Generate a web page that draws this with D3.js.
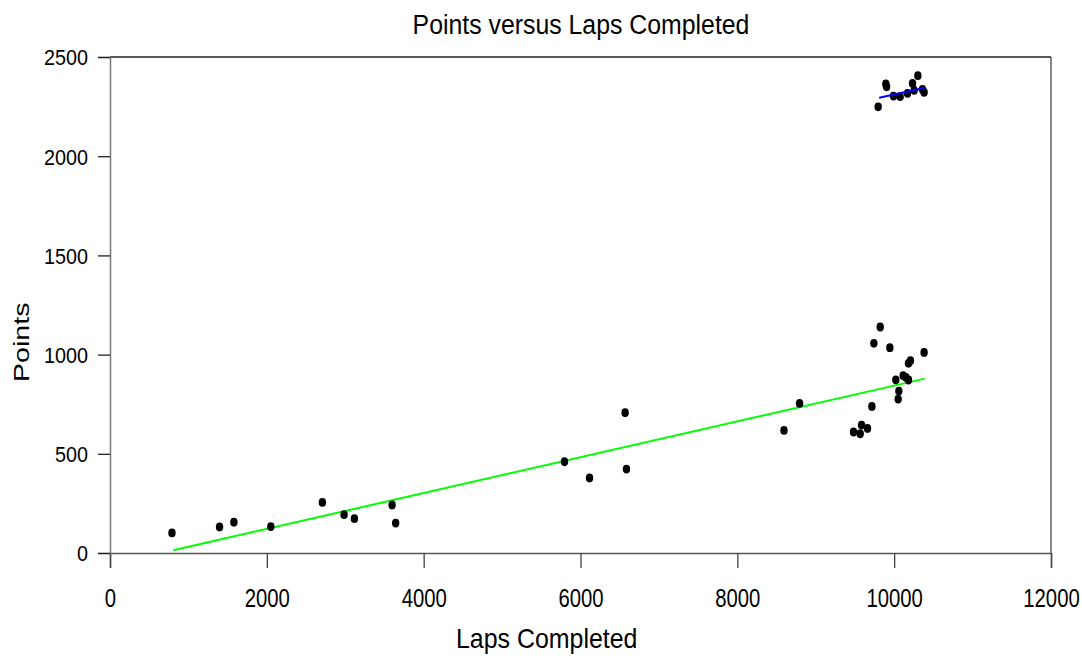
<!DOCTYPE html>
<html><head><meta charset="utf-8">
<script src="https://cdn.jsdelivr.net/npm/d3@7"></script>
<style>body{margin:0;background:#fff}svg{display:block}text{font-family:"Liberation Sans",Arial,sans-serif;fill:#000}</style>
</head><body><svg id="c" width="1082" height="656"></svg>
<script>
const lowLaps = [790,1397,1580,2051,2709,2985,3117,3597,3643,5796,6115,6569,6586,8595,8794,9482,9567,9584,9660,9716,9741,9822,9945,10021,10051,10060,10115,10150,10183,10183,10208,10382];
const lowPoints = [101,131,155,133,255,193,173,242,151,460,378,707,423,618,754,610,601,645,628,739,1057,1139,1035,873,776,816,894,885,872,956,969,1011];
const highLaps = [9796,9894,9903,9991,10076,10170,10234,10255,10302,10361,10382];
const highPoints = [2249,2364,2350,2303,2300,2317,2367,2332,2406,2337,2322];
const greenFitX = [807,10391];
const greenFitY = [14,879];
const blueFitX = [9809,10391];
const blueFitY = [2295,2345];
const xTicks = [0,2000,4000,6000,8000,10000,12000];
const yTicks = [0,500,1000,1500,2000,2500];

const svg = d3.select("#c");
const L=110,R=1051,T=57,B=553;
const x = d3.scaleLinear().domain([0,12000]).range([L,R]);
const y = d3.scaleLinear().domain([0,2500]).range([B,T]);

svg.append("line").attr("x1",R).attr("x2",R).attr("y1",T).attr("y2",B).attr("stroke","#888").attr("stroke-width",2);
svg.append("line").attr("x1",L).attr("x2",R).attr("y1",T).attr("y2",T).attr("stroke","#222").attr("stroke-width",1.3);

const xsx = 0.78;
const xa = svg.append("g").attr("transform",`translate(0,${B})`)
  .call(d3.axisBottom(x).tickValues(xTicks).tickSize(15).tickPadding(0).tickFormat(d3.format("d")));
xa.select(".domain").attr("stroke","#555").attr("stroke-width",1.5);
xa.selectAll(".tick line").attr("stroke","#444").attr("stroke-width",1.3);
xa.selectAll("text").style("font-size","26px").attr("fill","#000").attr("dy",null).attr("y",54)
  .attr("transform",`scale(${xsx},1)`);

const ysx = 0.9;
const ya = svg.append("g").attr("transform",`translate(${L},0)`)
  .call(d3.axisLeft(y).tickValues(yTicks).tickSize(12).tickPadding(0).tickFormat(d3.format("d")));
ya.select(".domain").attr("stroke","#777").attr("stroke-width",1.5);
ya.selectAll(".tick line").attr("stroke","#222").attr("stroke-width",1.3);
ya.selectAll("text").style("font-size","22px").attr("fill","#000").attr("x",-22/ysx).attr("dy","0.36em")
  .attr("transform",`scale(${ysx},1)`);

const line = d3.line().x(d=>x(d[0])).y(d=>y(d[1]));
svg.append("path").attr("d",line(d3.zip(greenFitX,greenFitY))).attr("stroke","#00ff00").attr("stroke-width",2).attr("fill","none");

svg.append("g").selectAll("ellipse").data(d3.zip(lowLaps,lowPoints).concat(d3.zip(highLaps,highPoints))).join("ellipse")
  .attr("cx",d=>x(d[0])).attr("cy",d=>y(d[1])).attr("rx",3.7).attr("ry",4.4).attr("fill","#000");

svg.append("path").attr("d",line(d3.zip(blueFitX,blueFitY))).attr("stroke","#0000ff").attr("stroke-width",2).attr("fill","none");

svg.append("text").attr("transform","translate(581,34) scale(0.92,1)").attr("text-anchor","middle").style("font-size","27px").text("Points versus Laps Completed");
svg.append("text").attr("transform","translate(456,648) scale(0.89,1)").attr("text-anchor","start").style("font-size","28px").text("Laps Completed");
svg.append("text").attr("transform","translate(29,382) rotate(-90) scale(1.3,1)").attr("text-anchor","start").style("font-size","22px").text("Points");
</script></body></html>
